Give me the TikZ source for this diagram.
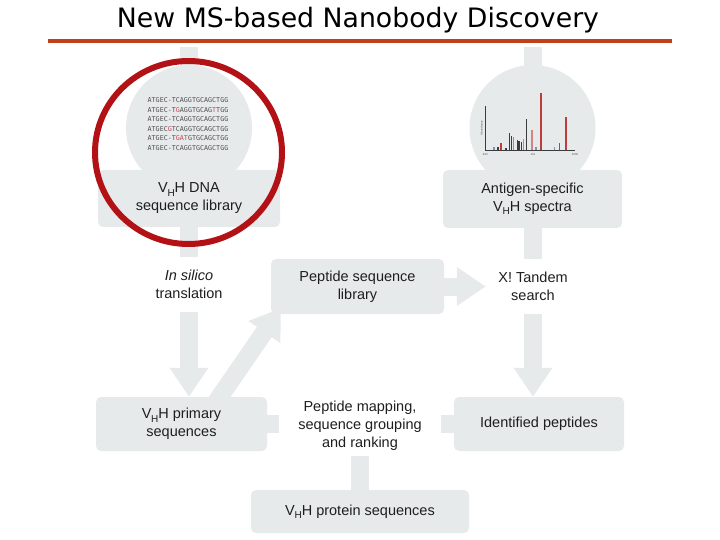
\documentclass[tikz,border=0pt]{standalone}
\usepackage{fontspec}
\setmainfont{Liberation Sans}
\newfontfamily\titlefont{DejaVu Sans}
\newfontfamily\dnafont{DejaVu Sans Mono}
\usetikzlibrary{arrows.meta,calc}
\definecolor{panel}{RGB}{231,234,235}
\definecolor{ring}{RGB}{178,18,22}
\definecolor{rulec}{RGB}{192,64,26}
\definecolor{ink}{RGB}{30,30,30}
\definecolor{mut}{RGB}{200,70,85}
\definecolor{dnac}{RGB}{80,80,80}
\definecolor{specred}{RGB}{190,60,60}
\definecolor{specpink}{RGB}{215,130,130}
\definecolor{specblue}{RGB}{120,150,190}
\definecolor{specdark}{RGB}{60,60,60}
\newcommand\VHH{V\kern-0.3pt\raisebox{-0.45ex}{\fontsize{10}{10}\selectfont H}H}
\newcommand\mutc[1]{\textcolor{mut}{#1}}
\pgfdeclarelayer{bg}
\pgfsetlayers{bg,main}
\begin{document}
\begin{tikzpicture}[x=1pt,y=-1pt,
  box/.style={fill=panel, rounded corners=5pt, inner sep=0pt, align=center,
    font=\fontsize{14.5}{18}\selectfont, text=ink},
  lbl/.style={inner sep=0pt, align=center, font=\fontsize{14.5}{18}\selectfont, text=ink},
  disc/.style={circle, fill=panel, minimum size=126pt, inner sep=0pt},
  bar/.style={draw=panel, line width=18pt},
  flow/.style={bar, -{Triangle[width=37pt,length=29pt]}},
  dnaline/.style={inner sep=0pt, text=dnac, font=\dnafont\fontsize{6.7}{8}\selectfont},
  peak/.style={line width=1.4pt},
  tiny/.style={inner sep=0pt, font=\fontsize{2.8}{3}\selectfont, text=black!70}
]
\useasboundingbox (0,0) rectangle (720,540);

% title
\node[anchor=base, inner sep=0pt, font=\titlefont\fontsize{26}{30}\selectfont] (title) at (358,28)
  {\resizebox{482pt}{!}{New MS-based Nanobody Discovery}};
\draw[rulec, line width=4pt] (48,41) -- (672,41);

% top left: DNA library
\coordinate (dnaTop) at (189,47);
\node[disc] (dnaCircle) at (189,128) {};
\node[box, minimum width=182pt, minimum height=57pt] (dnaBox) at (189,198.5)
  {\VHH{} DNA\\sequence library};
\node[dnaline] (s1) at (188,100.0) {ATGEC-TCAGGTGCAGCTGG};
\node[dnaline] (s2) at (188,109.6) {ATGEC-T\mutc{G}AGGTGCAG\mutc{T}TGG};
\node[dnaline] (s3) at (188,119.2) {ATGEC-TCAGGTGCAGCTGG};
\node[dnaline] (s4) at (188,128.8) {ATGEC\mutc{G}TCAGGTGCAGCTGG};
\node[dnaline] (s5) at (188,138.4) {ATGEC-T\mutc{GAT}GTGCAGCTGG};
\node[dnaline] (s6) at (188,148.0) {ATGEC-TCAGGTGCAGCTGG};

% top right: spectra
\coordinate (specTop) at (532.5,47);
\node[disc] (specCircle) at (532.5,128) {};
\node[box, minimum width=179pt, minimum height=58pt] (specBox) at (532.5,199)
  {Antigen-specific\\\VHH{} spectra};
% spectrum plot
\draw[specdark, line width=0.7pt] (485.3,106) -- (485.3,150) -- (575,150);
\draw[peak, draw=specred, line width=2pt] (541.3,150) -- (541.3,92.7);
\draw[peak, draw=specred, line width=1.8pt] (565.7,150) -- (565.7,116.7);
\draw[peak, draw=specdark] (526.3,150) -- (526.3,119.3);
\draw[peak, draw=specpink] (532,150) -- (532,130);
\draw[peak, draw=specdark] (509.7,150) -- (509.7,132.7);
\draw[peak, draw=specdark] (511.5,150) -- (511.5,136);
\draw[peak, draw=specblue] (513.3,150) -- (513.3,137.5);
\draw[peak, draw=specdark] (517.3,150) -- (517.3,140);
\draw[peak, draw=specdark] (519,150) -- (519,141);
\draw[peak, draw=specdark] (521.3,150) -- (521.3,142);
\draw[peak, draw=specpink] (523.2,150) -- (523.2,139);
\draw[peak, draw=specred] (501,150) -- (501,143);
\draw[peak, draw=specred] (559.7,150) -- (559.7,143);
\draw[peak, draw=specblue] (554.7,150) -- (554.7,146.7);
\draw[peak, draw=specblue] (494,150) -- (494,147);
\draw[peak, draw=specdark] (498,150) -- (498,147.5);
\draw[peak, draw=specdark] (506,150) -- (506,148);
\draw[peak, draw=specblue] (536,150) -- (536,147);
\node[tiny] (ax1) at (485.3,154.5) {400};
\node[tiny] (ax2) at (533,154.5) {m/z};
\node[tiny] (ax3) at (575,154.5) {1000};
\node[tiny, rotate=90] (ax4) at (481.5,128) {Abundance};

% middle row
\node[lbl, minimum width=70pt, minimum height=55pt] (insilico) at (189,284.5)
  {\textit{In silico}\\translation};
\node[box, minimum width=173pt, minimum height=55pt] (pepBox) at (357.5,286.5)
  {Peptide sequence\\library};
\node[lbl, minimum width=94pt, minimum height=55pt] (tandem) at (533,286.5)
  {X! Tandem\\search};

% bottom rows
\node[box, minimum width=171pt, minimum height=54pt] (primBox) at (181.5,424)
  {\VHH{} primary\\sequences};
\node[lbl, minimum width=162pt, minimum height=60pt] (mapping) at (360,426)
  {Peptide mapping,\\sequence grouping\\and ranking};
\node[box, minimum width=170pt, minimum height=54pt] (identBox) at (539,424)
  {Identified peptides};
\node[box, minimum width=218pt, minimum height=43pt] (protBox) at (360,511.5)
  {\VHH{} protein sequences};

\coordinate (diagStart) at ($(primBox.north east)+(-53,8)$);
\coordinate (diagTip) at ($(pepBox.south west)+(10,-6)$);

% connectors
\begin{pgfonlayer}{bg}
\draw[bar] (dnaTop) -- (dnaCircle.center);
\draw[bar] (specTop) -- (specCircle.center);
\draw[bar] (dnaBox.south) -- (insilico.north);
\draw[flow] (insilico.south) -- (insilico.south |- primBox.north);
\draw[bar] (specBox.south) -- (specBox.south |- tandem.north);
\draw[flow] (tandem.south) -- (tandem.south |- identBox.north);
\draw[flow] (pepBox.east) -- (tandem.west);
\draw[flow] (diagStart) -- (diagTip);
\draw[bar] (primBox.east) -- (primBox.east -| mapping.west);
\draw[bar] (identBox.west) -- (identBox.west -| mapping.east);
\draw[bar] (mapping.south) -- (protBox.north);
\end{pgfonlayer}

% highlight ring
\draw[ring, line width=6pt] (188.5,152.5) ellipse [x radius=93.5, y radius=91.5];
\end{tikzpicture}
\end{document}
